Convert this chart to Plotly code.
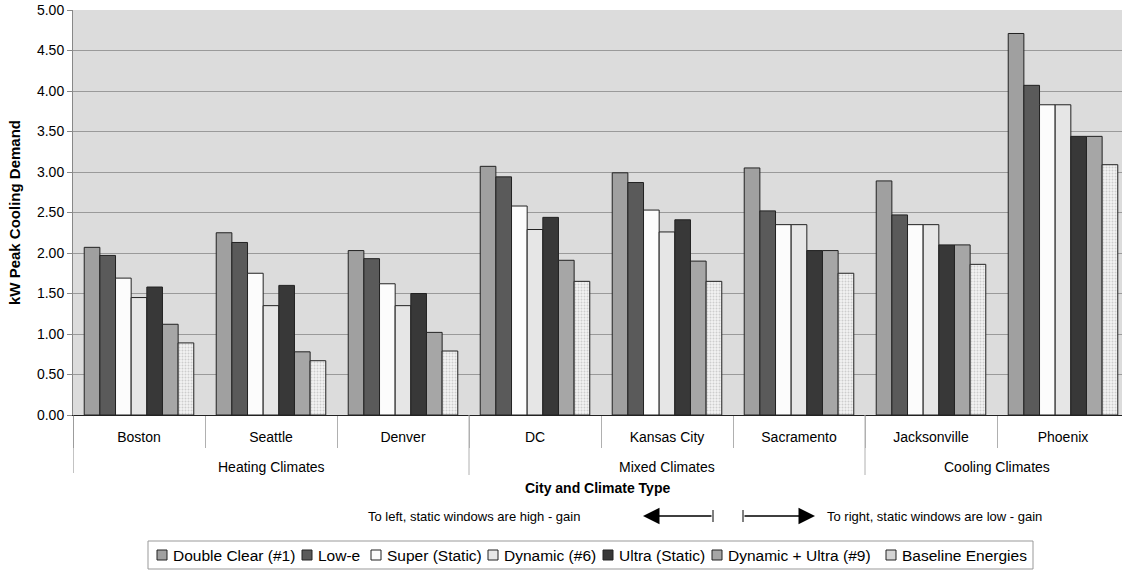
import plotly.graph_objects as go

cities = ["Boston", "Seattle", "Denver", "DC", "Kansas City", "Sacramento", "Jacksonville", "Phoenix"]
groups = ["Heating Climates", "Mixed Climates", "Cooling Climates"]
group_center_idx = [1, 4, 6.5]
group_bounds = [-0.5, 2.5, 5.5]

double_clear = [2.07, 2.25, 2.03, 3.07, 2.99, 3.05, 2.89, 4.71]
low_e = [1.97, 2.13, 1.93, 2.94, 2.87, 2.52, 2.47, 4.07]
super_static = [1.69, 1.75, 1.62, 2.58, 2.53, 2.35, 2.35, 3.83]
dynamic6 = [1.45, 1.35, 1.35, 2.29, 2.26, 2.35, 2.35, 3.83]
ultra_static = [1.58, 1.60, 1.50, 2.44, 2.41, 2.03, 2.10, 3.44]
dyn_ultra9 = [1.12, 0.78, 1.02, 1.91, 1.90, 2.03, 2.10, 3.44]
baseline = [0.89, 0.67, 0.79, 1.65, 1.65, 1.75, 1.86, 3.09]

y_ticks = [0, 0.5, 1, 1.5, 2, 2.5, 3, 3.5, 4, 4.5, 5]

FONT = "Liberation Sans, Arial, sans-serif"

series = [
    ("Double Clear (#1)", double_clear, "#a0a0a0", None),
    ("Low-e", low_e, "#5a5a5a", None),
    ("Super (Static)", super_static, "#fcfcfc", None),
    ("Dynamic (#6)", dynamic6, "#e6e6e6", None),
    ("Ultra (Static)", ultra_static, "#383838", None),
    ("Dynamic + Ultra (#9)", dyn_ultra9, "#a6a6a6", None),
    ("Baseline Energies", baseline, "#f2f2f2", "."),
]

W, H = 1122, 571
L, R, T, B = 73, 0, 10, 156
ph = H - T - B
pw = W - L - R


def py(p):
    return (H - B - p) / ph


def px(p):
    return (p - L) / pw


fig = go.Figure()
for name, vals, color, pat in series:
    marker = dict(color=color, line=dict(color="#222222", width=1))
    if pat:
        marker["pattern"] = dict(shape=pat, fgcolor="#a8a8a8", bgcolor="#f2f2f2", size=3, solidity=0.35)
    fig.add_trace(go.Bar(x=cities, y=vals, name=name, marker=marker, showlegend=False))

shapes = []
annotations = []

# group dividers and left axis extension
for gb in group_bounds:
    shapes.append(dict(type="line", xref="x", yref="paper", x0=gb, x1=gb, y0=0,
                       y1=py(475 if gb > 0 else 473),
                       line=dict(color="#b0b0b0" if gb > 0 else "#888", width=1)))

for g, c in zip(groups, group_center_idx):
    annotations.append(dict(text=g, xref="x", yref="paper", x=c, y=py(467), showarrow=False,
                            font=dict(family=FONT, size=14, color="#000"), xanchor="center", yanchor="middle"))

annotations.append(dict(text="<b>City and Climate Type</b>", xref="paper", yref="paper", x=0.5, y=py(488),
                        showarrow=False, font=dict(family=FONT, size=14, color="#000"),
                        xanchor="center", yanchor="middle"))

# direction notes
ya = py(516)
annotations.append(dict(text="To left, static windows are high - gain", xref="paper", yref="paper",
                        x=px(582), y=ya, showarrow=False, xanchor="right", yanchor="middle",
                        font=dict(family=FONT, size=13, color="#000")))
annotations.append(dict(text="To right, static windows are low - gain", xref="paper", yref="paper",
                        x=px(825), y=ya, showarrow=False, xanchor="left", yanchor="middle",
                        font=dict(family=FONT, size=13, color="#000")))
annotations.append(dict(text="", xref="paper", yref="paper", x=px(643), y=ya, ax=70, ay=0,
                        showarrow=True, arrowhead=2, arrowsize=2.2, arrowwidth=1.5, arrowcolor="#000"))
annotations.append(dict(text="", xref="paper", yref="paper", x=px(815), y=ya, ax=-72, ay=0,
                        showarrow=True, arrowhead=2, arrowsize=2.2, arrowwidth=1.5, arrowcolor="#000"))
for xt in (713, 743):
    shapes.append(dict(type="line", xref="paper", yref="paper", x0=px(xt), x1=px(xt),
                       y0=py(510), y1=py(522), line=dict(color="#000", width=1)))

# legend box (drawn as shapes + text so its compact spacing matches)
legend_sq_x = [157, 302, 371, 488, 603, 712, 886]
shapes.append(dict(type="rect", xref="paper", yref="paper", x0=px(148), x1=px(1033), y0=py(541), y1=py(569),
                   line=dict(color="#999", width=1), fillcolor="white", layer="below"))
for (name, vals, color, pat), sx in zip(series, legend_sq_x):
    shapes.append(dict(type="rect", xref="paper", yref="paper", x0=px(sx), x1=px(sx + 10),
                       y0=py(550), y1=py(560), line=dict(color="#222", width=1),
                       fillcolor="#d4d4d4" if pat else color))
    annotations.append(dict(text=name, xref="paper", yref="paper", x=px(sx + 14), y=py(555),
                            showarrow=False, xanchor="left", yanchor="middle",
                            font=dict(family=FONT, size=15.5, color="#000")))

fig.update_layout(
    width=W, height=H,
    margin=dict(l=L, r=R, t=T, b=B),
    paper_bgcolor="white",
    plot_bgcolor="#dcdcdc",
    barmode="group",
    bargap=0.17,
    bargroupgap=0,
    showlegend=False,
    font=dict(family=FONT, size=14, color="#000"),
    xaxis=dict(
        type="category",
        range=[-0.5, 7.5 - 7 / 132],
        tickson="boundaries",
        ticks="outside",
        ticklen=32,
        tickcolor="#b0b0b0",
        tickwidth=1,
        ticklabelstandoff=9,
        tickfont=dict(family=FONT, size=14, color="#000"),
        showline=True,
        linecolor="#222",
        linewidth=1,
        showgrid=False,
        zeroline=False,
    ),
    yaxis=dict(
        range=[0, 5],
        tickvals=y_ticks,
        tickformat=".2f",
        ticks="outside",
        ticklen=5,
        tickcolor="#888",
        tickfont=dict(family=FONT, size=14, color="#000"),
        showline=True,
        linecolor="#888",
        linewidth=1,
        showgrid=True,
        gridcolor="#9a9a9a",
        gridwidth=1,
        zeroline=False,
        title=dict(text="<b>kW Peak Cooling Demand</b>", font=dict(family=FONT, size=15, color="#000"),
                   standoff=12),
    ),
    shapes=shapes,
    annotations=annotations,
)

fig.write_html("out.html", config={"displayModeBar": False},
               post_script="document.body.style.margin='0px';document.body.style.overflow='hidden';")
